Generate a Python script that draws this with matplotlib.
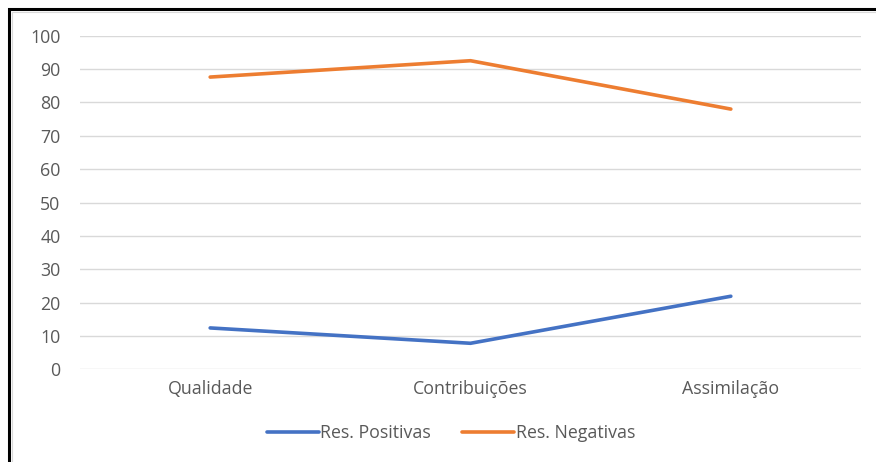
import matplotlib.pyplot as plt
from matplotlib.patches import Rectangle

categorias = ['Qualidade', 'Contribuições', 'Assimilação']
positivas = [12.4, 7.8, 21.9]
negativas = [87.6, 92.5, 78.0]
yticks = [0, 10, 20, 30, 40, 50, 60, 70, 80, 90, 100]

plt.rcParams['font.family'] = ['Open Sans', 'DejaVu Sans']

W, H = 876, 462
FS = 12.8
fig = plt.figure(figsize=(W / 100, H / 100), dpi=100)
fig.patch.set_facecolor('white')

# moldura preta (recortada em cima e à direita) + borda cinza do gráfico
fig.add_artist(Rectangle((9 / W, -0.1), 1.2, 1 - 9 / H + 0.1,
                         transform=fig.transFigure, fill=False,
                         edgecolor='black', linewidth=2.2))
fig.add_artist(Rectangle((12 / W, -0.1), 1.2, 1 - 12.5 / H + 0.1,
                         transform=fig.transFigure, fill=False,
                         edgecolor='#d9d9d9', linewidth=0.8))

ax = fig.add_axes([80 / W, 1 - 369.3 / H, 781 / W, (369.3 - 35.7) / H])
x = range(len(categorias))
l1, = ax.plot(x, positivas, color='#4472C4', linewidth=2.6,
              solid_capstyle='round', label='Res. Positivas')
l2, = ax.plot(x, negativas, color='#ED7D31', linewidth=2.6,
              solid_capstyle='round', label='Res. Negativas')

ax.set_xlim(-0.5, 2.5)
ax.set_ylim(0, 100)
ax.set_yticks(yticks)
ax.set_xticks(list(x))
ax.set_xticklabels(categorias)
ax.grid(axis='y', color='#d9d9d9', linewidth=1)
ax.set_axisbelow(True)
for s in ax.spines.values():
    s.set_visible(False)
ax.tick_params(axis='y', length=0, pad=14, labelsize=FS, labelcolor='#595959')
ax.tick_params(axis='x', length=0, pad=8, labelsize=FS, labelcolor='#595959')

fig.legend(handles=[l1, l2], loc='center', bbox_to_anchor=(451 / W, 1 - 433 / H),
           ncol=2, frameon=False, fontsize=FS, handlelength=2.9,
           handletextpad=0.1, columnspacing=1.75, labelcolor='#595959')

fig.savefig('out.png', dpi=100, facecolor='white')
